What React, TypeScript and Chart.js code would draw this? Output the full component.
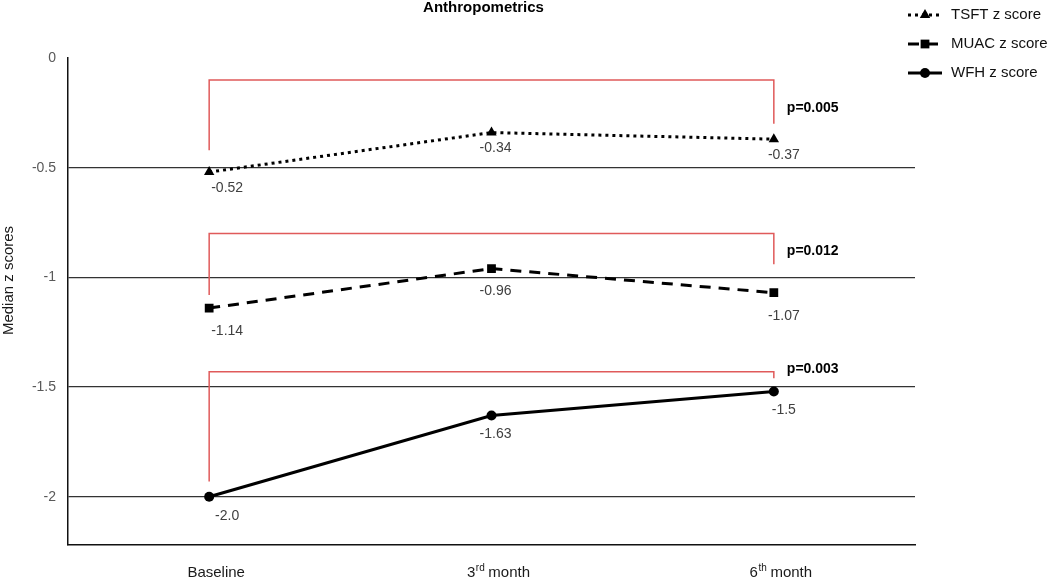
import React, { useEffect, useRef } from "react";
import { Chart, registerables } from "chart.js";

Chart.register(...registerables);

// ---- data ----
const categories = ["Baseline", "3rd month", "6th month"];
const seriesNames = ["TSFT z score", "MUAC z score", "WFH z score"];
const tsftValues = [-0.52, -0.34, -0.37];
const muacValues = [-1.14, -0.96, -1.07];
const wfhValues = [-2.0, -1.63, -1.52];
const tsftLabels = ["-0.52", "-0.34", "-0.37"];
const muacLabels = ["-1.14", "-0.96", "-1.07"];
const wfhLabels = ["-2.0", "-1.63", "-1.5"];
const yTicks = [0, -0.5, -1, -1.5, -2];
const yMin = -2.22;
const yMax = 0;
const pValues = ["p=0.005", "p=0.012", "p=0.003"];
const bracketTop = [-0.1, -0.8, -1.43];
const bracketLeftEnd = [-0.42, -1.08, -1.93];
const bracketRightEnd = [-0.3, -0.94, -1.46];
const pTextY = [-0.23, -0.88, -1.42];

const FONT = '"Liberation Sans", Arial, Helvetica, sans-serif';
const RED = "#e05a5a";

const labelDx = [18, 4, 10];
const labelDy = [16, 23, 19];

function drawCategory(ctx: CanvasRenderingContext2D, label: string, cx: number, cy: number) {
  const big = `15px ${FONT}`;
  const small = `10px ${FONT}`;
  const m = /^(\d+)(st|nd|rd|th)(.*)$/.exec(label);
  ctx.textBaseline = "middle";
  if (!m) {
    ctx.font = big;
    ctx.textAlign = "center";
    ctx.fillText(label, cx, cy);
    return;
  }
  ctx.font = big;
  const w1 = ctx.measureText(m[1]).width;
  const w3 = ctx.measureText(m[3]).width;
  ctx.font = small;
  const w2 = ctx.measureText(m[2]).width;
  const x0 = cx - (w1 + w2 + w3) / 2;
  ctx.textAlign = "left";
  ctx.font = big;
  ctx.fillText(m[1], x0, cy);
  ctx.font = small;
  ctx.fillText(m[2], x0 + w1 + 0.5, cy - 5);
  ctx.font = big;
  ctx.fillText(m[3], x0 + w1 + w2, cy);
}

const decorPlugin = {
  id: "decor",
  beforeDatasetsDraw(chart: any) {
    const { ctx, scales } = chart;
    const x = scales.x;
    const y = scales.y;
    const xl = x.getPixelForValue(0);
    const xr = x.getPixelForValue(categories.length - 1);
    ctx.save();
    ctx.strokeStyle = RED;
    ctx.lineWidth = 1.5;
    for (let i = 0; i < pValues.length; i++) {
      const yt = y.getPixelForValue(bracketTop[i]);
      ctx.beginPath();
      ctx.moveTo(xl, y.getPixelForValue(bracketLeftEnd[i]));
      ctx.lineTo(xl, yt);
      ctx.lineTo(xr, yt);
      ctx.lineTo(xr, y.getPixelForValue(bracketRightEnd[i]));
      ctx.stroke();
    }
    ctx.restore();
  },
  afterDatasetsDraw(chart: any) {
    const { ctx, chartArea, scales } = chart;
    const x = scales.x;
    const y = scales.y;
    ctx.save();
    // p-values
    ctx.fillStyle = "#000";
    ctx.font = `bold 14px ${FONT}`;
    ctx.textAlign = "left";
    ctx.textBaseline = "middle";
    const xr = x.getPixelForValue(categories.length - 1);
    for (let i = 0; i < pValues.length; i++) {
      ctx.fillText(pValues[i], xr + 13, y.getPixelForValue(pTextY[i]));
    }
    // data labels
    const labelSets = [tsftLabels, muacLabels, wfhLabels];
    ctx.font = `14px ${FONT}`;
    ctx.fillStyle = "#404040";
    ctx.textAlign = "center";
    chart.data.datasets.forEach((_ds: any, di: number) => {
      const meta = chart.getDatasetMeta(di);
      meta.data.forEach((pt: any, i: number) => {
        ctx.fillText(labelSets[di][i], pt.x + labelDx[i], pt.y + labelDy[di]);
      });
    });
    // x category labels
    ctx.fillStyle = "#1a1a1a";
    categories.forEach((c, i) => {
      drawCategory(ctx, c, x.getPixelForValue(i) + 7, chartArea.bottom + 28);
    });
    // title
    ctx.fillStyle = "#000";
    ctx.font = `bold 15px ${FONT}`;
    ctx.textAlign = "center";
    ctx.textBaseline = "middle";
    ctx.fillText("Anthropometrics", (chartArea.left + chartArea.right) / 2 - 8, 8);
    // y title
    ctx.save();
    ctx.translate(9, (chartArea.top + chartArea.bottom) / 2 - 21);
    ctx.rotate(-Math.PI / 2);
    ctx.font = `15px ${FONT}`;
    ctx.fillStyle = "#1a1a1a";
    ctx.fillText("Median z scores", 0, 0);
    ctx.restore();
    // legend
    const lx0 = chartArea.right - 7;
    const lx1 = chartArea.right + 27;
    chart.data.datasets.forEach((ds: any, di: number) => {
      const ly = 15 + di * 29;
      ctx.save();
      ctx.strokeStyle = ds.borderColor;
      ctx.lineWidth = ds.borderWidth;
      ctx.setLineDash(ds.borderDash || []);
      ctx.beginPath();
      ctx.moveTo(lx0, ly);
      ctx.lineTo(lx1, ly);
      ctx.stroke();
      ctx.restore();
      ctx.save();
      ctx.fillStyle = ds.pointBackgroundColor;
      const r = ds.pointRadius;
      const cx = (lx0 + lx1) / 2;
      ctx.beginPath();
      if (ds.pointStyle === "triangle") {
        const e = r * Math.sqrt(3);
        const h = (e * Math.sqrt(3)) / 2;
        ctx.moveTo(cx, ly - (2 * h) / 3);
        ctx.lineTo(cx + e / 2, ly + h / 3);
        ctx.lineTo(cx - e / 2, ly + h / 3);
        ctx.closePath();
      } else if (ds.pointStyle === "rect") {
        const s = r * Math.SQRT1_2;
        ctx.rect(cx - s, ly - s, 2 * s, 2 * s);
      } else {
        ctx.arc(cx, ly, r, 0, Math.PI * 2);
      }
      ctx.fill();
      ctx.restore();
      ctx.fillStyle = "#111";
      ctx.font = `15px ${FONT}`;
      ctx.textAlign = "left";
      ctx.textBaseline = "middle";
      ctx.fillText(seriesNames[di], chartArea.right + 36, ly);
    });
    ctx.restore();
  },
};

export default function App() {
  const ref = useRef<HTMLCanvasElement | null>(null);
  useEffect(() => {
    document.body.style.margin = "0";
    if (!ref.current) return;
    const common = {
      borderColor: "#000",
      backgroundColor: "#000",
      pointBackgroundColor: "#000",
      pointBorderColor: "#000",
      pointBorderWidth: 0,
      fill: false,
      tension: 0,
    };
    const chart = new Chart(ref.current, {
      type: "line",
      data: {
        labels: categories,
        datasets: [
          {
            ...common,
            label: seriesNames[0],
            data: tsftValues,
            borderWidth: 3,
            borderDash: [3, 4],
            pointStyle: "triangle",
            pointRadius: 6,
          },
          {
            ...common,
            label: seriesNames[1],
            data: muacValues,
            borderWidth: 3,
            borderDash: [11, 8],
            pointStyle: "rect",
            pointRadius: 6.2,
          },
          {
            ...common,
            label: seriesNames[2],
            data: wfhValues,
            borderWidth: 3,
            pointStyle: "circle",
            pointRadius: 5,
          },
        ] as any,
      },
      options: {
        animation: false,
        responsive: false,
        devicePixelRatio: 1,
        layout: { padding: { top: 58, right: 137, left: 0, bottom: 0 } },
        plugins: {
          legend: { display: false },
          title: { display: false },
          tooltip: { enabled: false },
        },
        scales: {
          x: {
            type: "category",
            offset: true,
            grid: { display: false },
            border: { display: true, color: "#111", width: 1.5 },
            ticks: { display: false },
            afterFit: (s: any) => {
              s.height = 42;
            },
          },
          y: {
            min: yMin,
            max: yMax,
            afterBuildTicks: (s: any) => {
              s.ticks = yTicks.map((v) => ({ value: v }));
            },
            afterFit: (s: any) => {
              s.width = 68;
            },
            grid: {
              drawTicks: false,
              color: (c: any) => (c.tick && c.tick.value === 0 ? "rgba(0,0,0,0)" : "#333"),
              lineWidth: 1.3,
            },
            border: { display: true, color: "#111", width: 1.5 },
            ticks: {
              padding: 12,
              color: "#595959",
              font: { family: FONT, size: 14 },
              callback: (v: any) => String(v),
            },
          },
        },
      } as any,
      plugins: [decorPlugin],
    });
    return () => chart.destroy();
  }, []);
  return (
    <div style={{ width: 1052, height: 587 }}>
      <canvas ref={ref} width={1052} height={587} style={{ display: "block" }} />
    </div>
  );
}
